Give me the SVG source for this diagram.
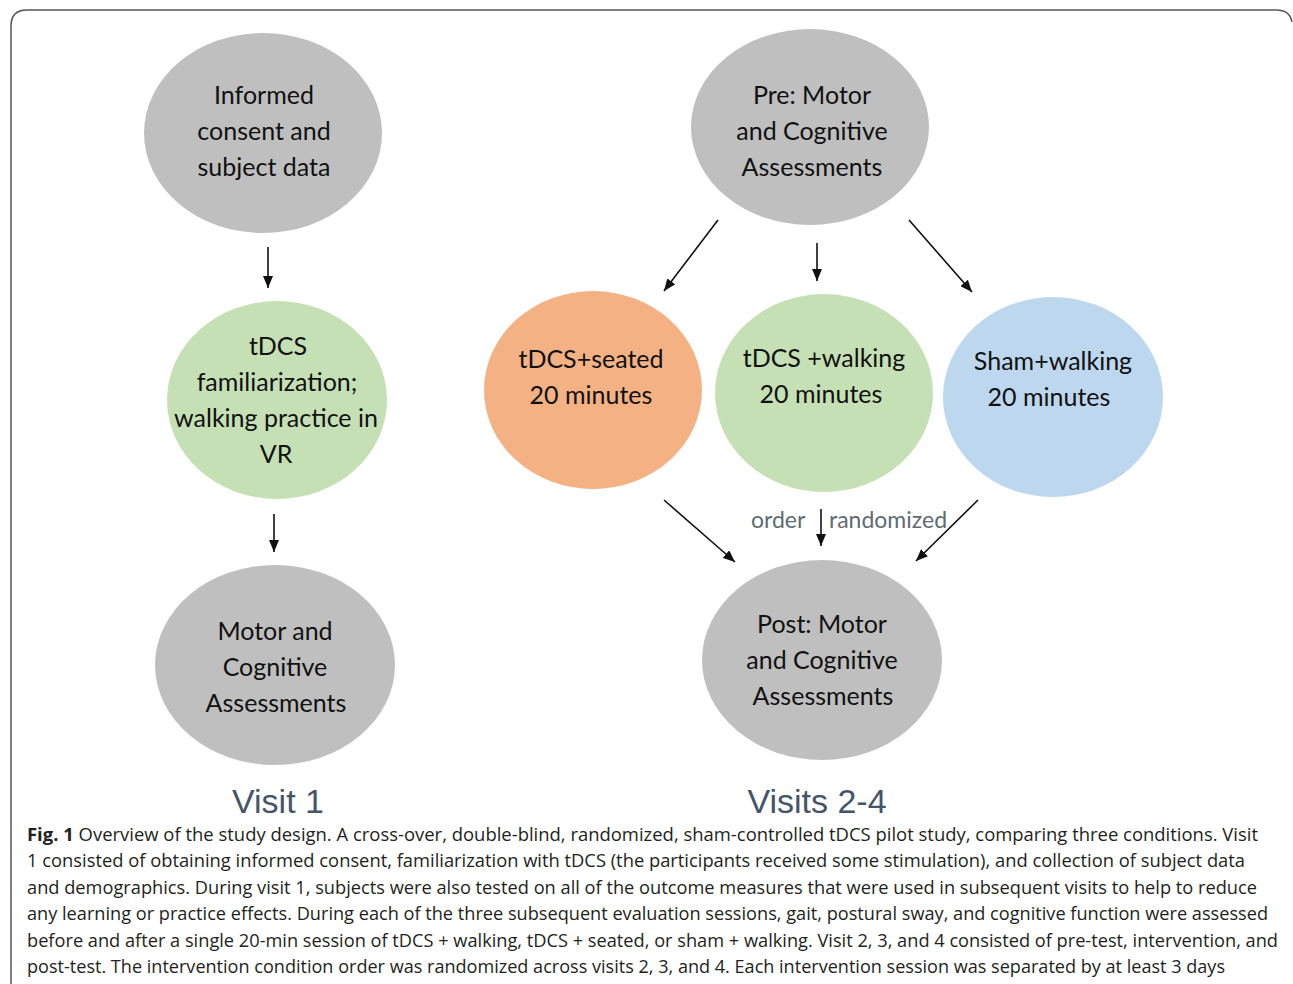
<svg xmlns="http://www.w3.org/2000/svg" width="1293" height="984" viewBox="0 0 1293 984">
  <defs>
    <marker id="arrow" viewBox="0 0 12 10" refX="12" refY="5" markerWidth="12" markerHeight="10" markerUnits="userSpaceOnUse" orient="auto">
      <path d="M0,0 L12,5 L0,10 Z" fill="#111"/>
    </marker>
    <style>
      .gray { fill: #bfbfbf; }
      .green { fill: #c5e0b4; }
      .orange { fill: #f4b183; }
      .blue { fill: #bdd7ee; }
      .lbl { font-family: Lato, "Liberation Sans", sans-serif; font-size: 25px; fill: #111; text-anchor: middle; }
      .visit { font-family: "Liberation Sans", Arial, sans-serif; font-size: 34px; fill: #44546a; text-anchor: middle; }
      .note { font-family: Lato, "Liberation Sans", sans-serif; font-size: 23px; fill: #5f6b73; }
      .cap { font-family: "Open Sans", "Liberation Sans", sans-serif; font-size: 18px; fill: #231f20; }
      .conn line { stroke: #111; stroke-width: 1.6; marker-end: url(#arrow); }
    </style>
  </defs>

  <rect x="0" y="0" width="1293" height="984" fill="#fff"/>
  <!-- figure frame, open at the bottom -->
  <path d="M11,1000 L11,26 Q11,10 27,10 L1276,10 Q1290,10 1292,22" fill="none" stroke="#555" stroke-width="1.5"/>

  <!-- Visit 1 column -->
  <g id="consent">
    <ellipse class="gray" cx="263" cy="133" rx="119" ry="100"/>
    <text class="lbl" x="264" y="104">Informed</text>
    <text class="lbl" x="264" y="140">consent and</text>
    <text class="lbl" x="264" y="176">subject data</text>
  </g>
  <g id="familiarization">
    <ellipse class="green" cx="277" cy="400" rx="110" ry="99"/>
    <text class="lbl" x="278" y="355">tDCS</text>
    <text class="lbl" x="277" y="391">familiarization;</text>
    <text class="lbl" x="276" y="427">walking practice in</text>
    <text class="lbl" x="276" y="463">VR</text>
  </g>
  <g id="assess-v1">
    <ellipse class="gray" cx="275" cy="665" rx="120" ry="100"/>
    <text class="lbl" x="275" y="640">Motor and</text>
    <text class="lbl" x="275" y="676">Cognitive</text>
    <text class="lbl" x="276" y="712">Assessments</text>
  </g>

  <!-- Visits 2-4 column -->
  <g id="pre">
    <ellipse class="gray" cx="810" cy="127" rx="119" ry="98"/>
    <text class="lbl" x="812" y="104">Pre: Motor</text>
    <text class="lbl" x="812" y="140">and Cognitive</text>
    <text class="lbl" x="812" y="176">Assessments</text>
  </g>
  <g id="seated">
    <ellipse class="orange" cx="593" cy="390" rx="109" ry="99"/>
    <text class="lbl" x="591" y="368">tDCS+seated</text>
    <text class="lbl" x="591" y="404">20 minutes</text>
  </g>
  <g id="walking">
    <ellipse class="green" cx="824" cy="393" rx="109" ry="99"/>
    <text class="lbl" x="824" y="367">tDCS +walking</text>
    <text class="lbl" x="821" y="403">20 minutes</text>
  </g>
  <g id="sham">
    <ellipse class="blue" cx="1053" cy="397" rx="110" ry="100"/>
    <text class="lbl" x="1053" y="370">Sham+walking</text>
    <text class="lbl" x="1049" y="406">20 minutes</text>
  </g>
  <g id="post">
    <ellipse class="gray" cx="822" cy="660" rx="120" ry="100"/>
    <text class="lbl" x="822" y="633">Post: Motor</text>
    <text class="lbl" x="822" y="669">and Cognitive</text>
    <text class="lbl" x="823" y="705">Assessments</text>
  </g>

  <g id="connectors" class="conn">
    <line x1="268" y1="247" x2="268" y2="288"/>
    <line x1="274" y1="514" x2="274" y2="552"/>
    <line x1="718" y1="220" x2="664" y2="291"/>
    <line x1="817" y1="243" x2="817" y2="281"/>
    <line x1="909" y1="220" x2="972" y2="292"/>
    <line x1="664" y1="500" x2="735" y2="562"/>
    <line x1="821" y1="509" x2="821" y2="546"/>
    <line x1="978" y1="500" x2="916" y2="561"/>
  </g>

  <g id="order-note">
    <text class="note" x="751" y="528">order</text>
    <text class="note" x="829" y="528">randomized</text>
  </g>

  <g id="titles">
    <text class="visit" x="278" y="813">Visit 1</text>
    <text class="visit" x="817" y="813">Visits 2-4</text>
  </g>

  <g id="caption" class="cap">
    <text x="27" y="841" textLength="1231" lengthAdjust="spacingAndGlyphs"><tspan font-weight="bold">Fig. 1</tspan>  Overview of the study design. A cross-over, double-blind, randomized, sham-controlled tDCS pilot study, comparing three conditions. Visit</text>
    <text x="27" y="867" textLength="1218" lengthAdjust="spacingAndGlyphs">1 consisted of obtaining informed consent, familiarization with tDCS (the participants received some stimulation), and collection of subject data</text>
    <text x="27" y="894" textLength="1230" lengthAdjust="spacingAndGlyphs">and demographics. During visit 1, subjects were also tested on all of the outcome measures that were used in subsequent visits to help to reduce</text>
    <text x="27" y="920" textLength="1241" lengthAdjust="spacingAndGlyphs">any learning or practice effects. During each of the three subsequent evaluation sessions, gait, postural sway, and cognitive function were assessed</text>
    <text x="27" y="947" textLength="1251" lengthAdjust="spacingAndGlyphs">before and after a single 20-min session of tDCS + walking, tDCS + seated, or sham + walking. Visit 2, 3, and 4 consisted of pre-test, intervention, and</text>
    <text x="27" y="973" textLength="1198" lengthAdjust="spacingAndGlyphs">post-test. The intervention condition order was randomized across visits 2, 3, and 4. Each intervention session was separated by at least 3 days</text>
  </g>
</svg>
